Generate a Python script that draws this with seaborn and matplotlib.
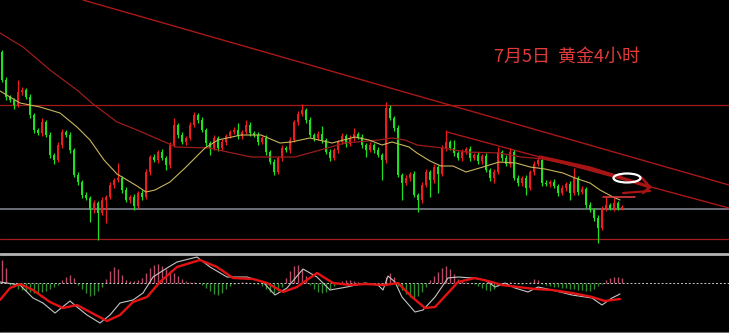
import numpy as np
import pandas as pd
import matplotlib
matplotlib.use("Agg")
import matplotlib.pyplot as plt
from matplotlib.patches import Ellipse
import seaborn as sns

# ---------------- data (price levels in chart units) ----------------
first_open = 200
closes = [
    172, 155, 152, 147, 160, 162, 155, 137, 122, 119, 130, 117, 97, 92, 107, 120, 117, 102, 77, 70,
    57, 54, 42, 49, 39, 52, 55, 67, 72, 74, 62, 52, 55, 46, 59, 55, 80, 95, 92, 100,
    94, 87, 107, 127, 117, 110, 114, 127, 137, 132, 122, 109, 104, 114, 104, 110, 116, 120, 122, 116,
    120, 127, 119, 117, 110, 114, 100, 90, 80, 94, 104, 102, 112, 130, 138, 142, 132, 117, 114, 118,
    112, 100, 94, 102, 110, 116, 108, 114, 118, 115, 107, 102, 107, 102, 97, 92, 144, 134, 124, 77,
    69, 74, 78, 57, 52, 67, 80, 72, 85, 78, 104, 110, 104, 99, 94, 100, 103, 94, 97, 91,
    96, 82, 74, 80, 100, 94, 88, 100, 74, 69, 74, 64, 80, 88, 92, 69, 68, 70, 66, 59,
    64, 68, 59, 74, 60, 63, 47, 42, 34, 24, 44, 47, 44, 49, 44, 45,
]
upper_wicks = [
    2, 3, 2, 2, 12, 3, 2, 3, 2, 2, 4, 2, 3, 2, 3, 3, 2, 3, 2, 3,
    2, 3, 2, 3, 2, 3, 2, 3, 2, 15, 2, 3, 2, 3, 2, 3, 3, 2, 3, 2,
    3, 2, 3, 7, 2, 3, 2, 3, 3, 2, 3, 2, 2, 3, 2, 3, 2, 2, 3, 7,
    2, 5, 3, 2, 3, 2, 3, 2, 3, 2, 3, 2, 3, 2, 3, 6, 2, 3, 2, 3,
    8, 2, 3, 2, 2, 3, 2, 3, 6, 2, 3, 2, 3, 2, 3, 2, 6, 3, 2, 3,
    2, 3, 2, 3, 2, 3, 3, 2, 3, 2, 3, 12, 2, 8, 2, 3, 2, 3, 2, 3,
    2, 3, 2, 3, 5, 2, 3, 4, 2, 3, 2, 3, 2, 3, 3, 2, 3, 2, 3, 2,
    3, 2, 3, 10, 2, 3, 2, 3, 2, 3, 2, 8, 2, 5, 2, 2,
]
lower_wicks = [
    2, 3, 2, 4, 2, 3, 2, 3, 3, 2, 3, 2, 3, 4, 2, 3, 2, 3, 2, 3,
    3, 2, 12, 3, 27, 2, 23, 2, 3, 2, 3, 2, 3, 4, 2, 3, 2, 3, 2, 3,
    2, 5, 3, 2, 3, 2, 3, 2, 2, 3, 2, 3, 7, 2, 3, 2, 3, 2, 2, 3,
    3, 2, 3, 2, 3, 2, 3, 2, 3, 2, 3, 2, 3, 2, 3, 2, 3, 2, 3, 2,
    3, 2, 3, 2, 3, 2, 3, 2, 3, 2, 3, 7, 2, 3, 2, 20, 3, 2, 3, 2,
    17, 2, 3, 2, 12, 3, 2, 17, 3, 19, 2, 3, 2, 3, 2, 3, 2, 3, 2, 3,
    3, 2, 3, 5, 2, 3, 2, 3, 2, 3, 3, 7, 2, 3, 2, 3, 2, 3, 2, 3,
    2, 3, 7, 2, 3, 2, 3, 2, 3, 15, 2, 3, 2, 3, 2, 2,
]

# moving averages (bar position, level)
ma_fast_x = [-0.5, 4.5, 9.5, 14.5, 18.75, 22, 25.5, 28.75, 33.75, 36, 38.25, 42, 45.75, 48.25,
             50.75, 54, 59.75, 64.75, 69.5, 72.25, 77, 82.5, 88.25, 91.75, 95, 97.5, 101.75,
             103.75, 107, 109.75, 112.75, 116, 120.25, 124.25, 128.5, 132, 135.75, 140.25,
             143.25, 147, 149.5, 152.75, 154.5]
ma_fast_y = [161, 149, 145, 139, 125, 112, 92, 78, 66, 60, 62, 70, 84, 94,
             104, 112, 117, 117, 109, 110, 114, 109, 115, 112, 107, 110, 105,
             99, 91, 86, 86, 80, 85, 90, 89, 85, 83, 79,
             74, 69, 62, 55, 52]
ma_slow_x = [-0.5, 5.25, 12, 18.75, 22.75, 28.75, 33.75, 41.25, 43.5, 51.75, 62.25, 73.25,
             77.75, 85.75, 94.25, 97.5, 100.75, 103.75, 110.25, 116, 124.25, 129.75, 135.25,
             142, 149.5, 155]
ma_slow_y = [219, 205, 182, 162, 148, 130, 122, 109, 105, 104, 95, 95,
             100, 109, 112, 114, 112, 107, 104, 100, 99, 95, 93,
             87, 80, 76]

# MACD panel
dif_x = [-0.5, 4.5, 7.75, 10.25, 13.25, 17, 18.75, 21.25, 24.5, 27, 29.5, 32.75, 35.25, 37.75,
         41.25, 43.75, 48.75, 52, 56.25, 61.25, 65.25, 68.25, 71.25, 75.25, 78.75, 82, 86.25,
         90.75, 94, 95.25, 96.5, 98.25, 100, 103.25, 105.25, 108.25, 111.5, 114, 117.5, 120.75,
         123.25, 125.75, 128.25, 131.5, 134, 137.5, 142.5, 147.5, 150, 152.5, 154.5]
dif_y = [1, -2, -15, -20, -30, -18, -24, -32, -40, -32, -20, -17, -10, 6,
         15, 21, 26, 16, 6, 6, 1, -12, -5, 14, 6, -7, -4,
         0, -2, -7, 7, 1, -14, -29, -27, -14, 5, 6, 5, 3,
         -4, 0, -5, -9, -4, -7, -12, -15, -22, -15, -11]
dea_x = [-0.5, 2, 4.5, 7.75, 12, 15.25, 18.75, 22, 26.25, 29.5, 32.75, 36.25, 39.5, 43.75,
         49.5, 53.75, 57.75, 62.75, 66.25, 70.25, 73.75, 78.75, 82.75, 87, 90.75, 95.75, 99,
         102.5, 105.75, 108.25, 111.5, 114, 118.25, 121.5, 125, 129, 133.25, 137.5, 142.5,
         147.5, 150.75, 154.5]
dea_y = [-17, -5, -1, -7, -19, -25, -22, -29, -38, -32, -19, -14, 1, 16,
         23, 16, 5, 4, 0, -9, -4, 10, 0, -2, -1, -2, 0,
         -14, -25, -24, -10, 1, 5, 2, -2, -4, -6, -7, -10,
         -14, -18, -16]
hist = [
    23, 15,
    -2, -4, -6, -7, -8, -9, -10, -10, -9, -8, -6, -4, -2,
    3, 6, 8, 5,
    -2, -6, -10, -13, -12, -8, -4,
    4, 12, 16, 14, 8,
    3, 2, 2, 3, 5,
    10, 15, 18, 19, 17, 14, 12, 10, 7, 4,
    2, 1, 1, 0,
    -2, -5, -8, -11, -12, -10, -6, -3,
    -1, 0, 1, 1, 0, -1, -1,
    -3, -6, -9, -10, -8, -4,
    5, 12, 17, 18, 14, 7,
    -2, -6, -9, -10, -9, -6, -3,
    1, 2, 3, 3, 2, 1, 0,
    0, -1, -1, -2, 0,
    6, 10, 6,
    -3, -7, -11, -14, -15, -13, -9, -4,
    3, 7, 11, 15, 17, 14, 9, 4,
    2, 1, 0, -1,
    -3, -5, -7, -8, -6, -3,
    -1, 0, 1, 0, -1, -1, 0, 1,
    4, 3,
    -1, -2, -3, -4, -4, -5, -5, -6, -6, -7, -7, -8, -8, -6, -3, -1,
    3, 5, 6, 6, 5,
]

# annotation levels / lines
resistance_level = 147
gray_level = 43
support_level = 13
trend_top_x, trend_top_y = [20.25, 181.75], [252, 67]
channel_x, channel_y = [111.25, 181.75], [120, 44]
arrow_shaft_x, arrow_shaft_y = [134.5, 147, 162], [95, 84, 65]
arrow_barb1_x, arrow_barb1_y = [159.75, 162, 160.25], [75, 65, 59]
arrow_barb2_x, arrow_barb2_y = [155.25, 162], [59, 61]
ellipse_center, ellipse_size = (156.25, 74), (6.75, 9)
mark_x, mark_y = [150.25, 158.25], [55, 55]
title = "7月5日  黄金4小时"

assert len(closes) == len(upper_wicks) == len(lower_wicks) == len(hist)

# ---------------- style ----------------
sns.set_theme(style="dark", rc={"axes.facecolor": "black", "figure.facecolor": "black",
                                "savefig.facecolor": "black"})
plt.rcParams['font.family'] = ['Noto Sans CJK SC', 'DejaVu Sans']

UP, DOWN = '#f01c1c', '#1ee01e'

opens = [first_open] + closes[:-1]
df = pd.DataFrame({"open": opens, "close": closes})
df["idx"] = np.arange(len(df))
df["high"] = df[["open", "close"]].max(axis=1) + np.array(upper_wicks)
df["low"] = df[["open", "close"]].min(axis=1) - np.array(lower_wicks)
df["color"] = np.where(df["close"] >= df["open"], UP, DOWN)

W, H = 729, 333
fig = plt.figure(figsize=(W / 100, H / 100), dpi=100, facecolor='black')
ax = fig.add_axes([0, (H - 251) / H, 1, 251 / H])
ax2 = fig.add_axes([0, 0, 1, 82 / H])
for a in (ax, ax2):
    a.set_facecolor('black')
    a.set_axis_off()
    a.set_xlim(-0.5, 181.75)
ax.set_ylim(1, 252)
ax2.set_ylim(-50, 32)

# horizontal levels and trend lines
ax.axhline(resistance_level, color='#a51a1a', lw=0.9, zorder=1)
ax.axhline(gray_level, color='#7d818c', lw=1.2, zorder=1)
ax.axhline(support_level, color='#a51a1a', lw=0.9, zorder=1)
ax.plot(trend_top_x, trend_top_y, color='#a81818', lw=1.0, zorder=1)
ax.plot(channel_x, channel_y, color='#a81818', lw=1.0, zorder=1)

# candles
ax.vlines(df["idx"], df["low"], df["high"], colors=df["color"], lw=0.9, zorder=2)
body_h = (df["close"] - df["open"]).abs().clip(lower=0.8)
ax.bar(df["idx"], body_h, bottom=df[["open", "close"]].min(axis=1), width=0.74,
       color=df["color"], linewidth=0, zorder=3)

# moving averages via seaborn
sns.lineplot(x=ma_slow_x, y=ma_slow_y, ax=ax, color='#9c1c1c', linewidth=0.9, zorder=4)
sns.lineplot(x=ma_fast_x, y=ma_fast_y, ax=ax, color='#c9b55c', linewidth=0.8, zorder=4)

# annotations
ax.plot(arrow_shaft_x, arrow_shaft_y, color='#a81414', lw=2.4, solid_capstyle='round', zorder=5)
ax.plot(arrow_barb1_x, arrow_barb1_y, color='#a81414', lw=1.8, zorder=5)
ax.plot(arrow_barb2_x, arrow_barb2_y, color='#a81414', lw=1.6, zorder=5)
ax.add_patch(Ellipse(ellipse_center, ellipse_size[0], ellipse_size[1], fill=False,
                     edgecolor='white', lw=1.6, zorder=6))
ax.plot(mark_x, mark_y, color='#e84040', lw=1.1, zorder=6)

fig.text(494 / W, 1 - 57 / H, title, color='#e03a3a', fontsize=13, ha='left', va='center')

# MACD panel
hist_colors = ['#b84c66' if v >= 0 else '#2e8e2e' for v in hist]
ax2.vlines(df["idx"], 0, hist, colors=hist_colors, lw=1.0, zorder=1)
ax2.axhline(0, color='#c8c8c8', lw=0.7, ls=(0, (2, 2)), zorder=2)
sns.lineplot(x=dif_x, y=dif_y, ax=ax2, color='#c4c4c4', linewidth=0.8, zorder=3)
sns.lineplot(x=dea_x, y=dea_y, ax=ax2, color='#e41212', linewidth=1.7, zorder=4)
ax2.axhline(29.5, color='#b4b4b4', lw=2.0, zorder=5)
ax2.axhline(-49.3, color='#6a6a6a', lw=0.8, zorder=5)

fig.savefig('out.png', dpi=100, facecolor='black')
